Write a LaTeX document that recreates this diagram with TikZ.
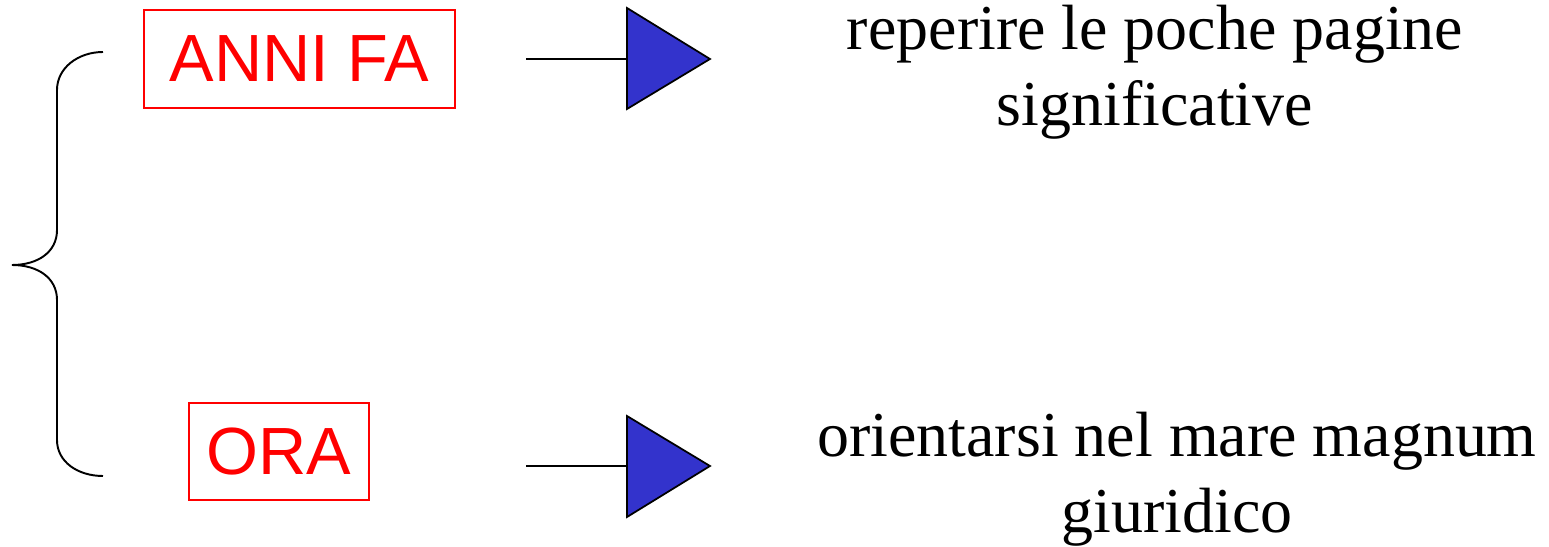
\documentclass[tikz,border=0pt]{standalone}
\usepackage{fontspec}
\setmainfont{Liberation Serif}
\newfontfamily\boxfont{Liberation Sans}
\usetikzlibrary{positioning}
\definecolor{triblue}{RGB}{51,51,204}

\begin{document}
\begin{tikzpicture}[x=0.02cm,y=-0.02cm,semithick,
                    every node/.style={align=center,inner sep=0pt}]
  \tikzstyle{period}=[draw=red,text=red,line width=1pt,font=\boxfont\fontsize{38pt}{44pt}\selectfont]
  \tikzstyle{goal}=[font=\fontsize{36.4pt}{43pt}\selectfont]
  \tikzstyle{pointer}=[draw=black,fill=triblue,line width=1pt,line join=miter]
  \useasboundingbox (0,0) rectangle (1549,547);

  % brace
  \draw[line width=1.1pt] (103,52) .. controls (78,52) and (57,68) .. (57,90)
        -- (57,230) .. controls (57,252) and (38,265) .. (12,265)
        .. controls (38,265) and (57,278) .. (57,300)
        -- (57,440) .. controls (57,462) and (78,476) .. (103,476);

  \node[period,minimum width=6.22cm,minimum height=1.96cm] (annifa) at (299.5,59) {ANNI FA};
  \node[period,minimum width=3.6cm,minimum height=1.94cm] (ora) at (279,451.5) {ORA};

  \coordinate (s1) at (526,59);
  \coordinate (b1) at (627,59);
  \coordinate (s2) at (526,466);
  \coordinate (b2) at (627,466);
  \draw[line width=1.1pt] (s1) -- (b1);
  \draw[line width=1.1pt] (s2) -- (b2);
  \filldraw[pointer] (627,8) -- (710,59) -- (627,109) -- cycle;
  \filldraw[pointer] (627,416) -- (710,466) -- (627,517) -- cycle;

  \node[goal] (pagine) at (1155,72) {reperire le poche pagine\\significative};
  \node[goal] (mare) at (1177,479) {orientarsi nel mare magnum\\giuridico};
\end{tikzpicture}
\end{document}
